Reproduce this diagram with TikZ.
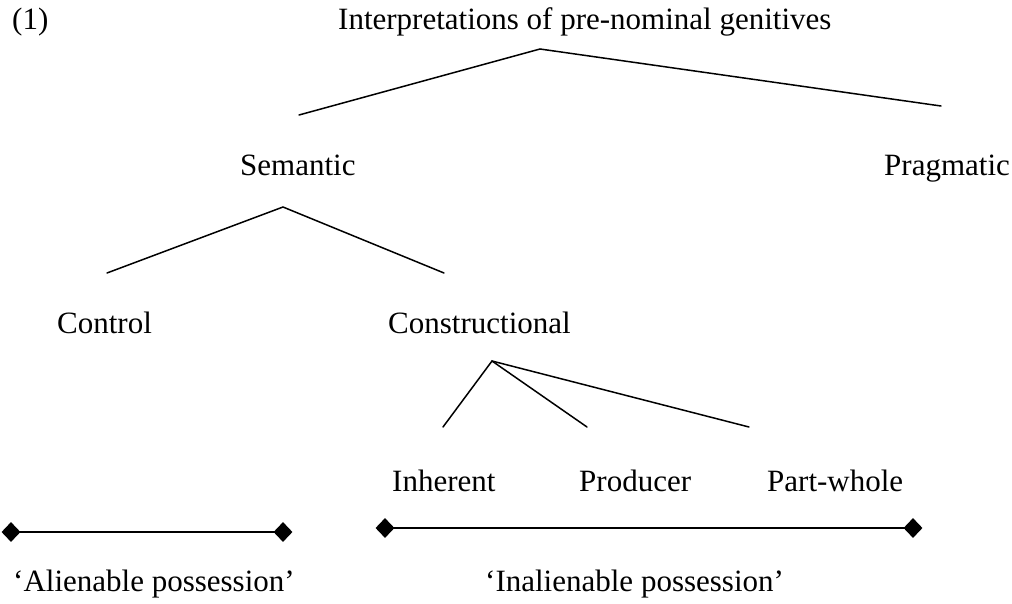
\documentclass[tikz,border=0pt]{standalone}
\usepackage{fontspec}
\setmainfont{Liberation Serif}
\usetikzlibrary{shapes.geometric}
\tikzset{
  lbl/.style={anchor=base west, inner sep=0pt, font=\fontsize{31}{37}\selectfont},
  branch/.style={line width=1.5pt, line cap=round},
  endmark/.style={diamond, fill=black, inner sep=0pt, minimum width=19pt, minimum height=20pt},
  rangeline/.style={line width=1.6pt},
}
\begin{document}
\begin{tikzpicture}[x=1pt,y=-1pt]
\useasboundingbox (0,0) rectangle (1012,603);
% texts
\node[lbl] (ex) at (12,29) {(1)};
\node[lbl] (root) at (338,29) {Interpretations of pre-nominal genitives};
\node[lbl] (sem) at (240,175) {Semantic};
\node[lbl] (prag) at (884,175) {Pragmatic};
\node[lbl] (ctrl) at (57,333) {Control};
\node[lbl] (constr) at (388,333) {Constructional};
\node[lbl] (inh) at (392,491) {Inherent};
\node[lbl] (prod) at (579,491) {Producer};
\node[lbl] (pw) at (767,491) {Part-whole};
\node[lbl] (alien) at (13,591) {‘Alienable possession’};
\node[lbl] (inalien) at (485,591) {‘Inalienable possession’};
% tree branch points
\coordinate (rootTop) at (540,49);
\coordinate (semEnd) at (299,115);
\coordinate (pragEnd) at (941,106);
\coordinate (semTop) at (283,207);
\coordinate (ctrlEnd) at (107,273);
\coordinate (constrEnd) at (444,273);
\coordinate (conTop) at (492,361);
\coordinate (inhEnd) at (443,427);
\coordinate (prodEnd) at (587,427);
\coordinate (pwEnd) at (749,427);
\draw[branch] (semEnd) -- (rootTop) -- (pragEnd);
\draw[branch] (ctrlEnd) -- (semTop) -- (constrEnd);
\draw[branch] (inhEnd) -- (conTop) -- (prodEnd);
\draw[branch] (conTop) -- (pwEnd);
% ranges
\node[endmark] (a1) at (11,532) {};
\node[endmark] (a2) at (283,532) {};
\node[endmark] (b1) at (385,528) {};
\node[endmark] (b2) at (913,528) {};
\draw[rangeline] (a1.center) -- (a2.center);
\draw[rangeline] (b1.center) -- (b2.center);
\end{tikzpicture}
\end{document}
